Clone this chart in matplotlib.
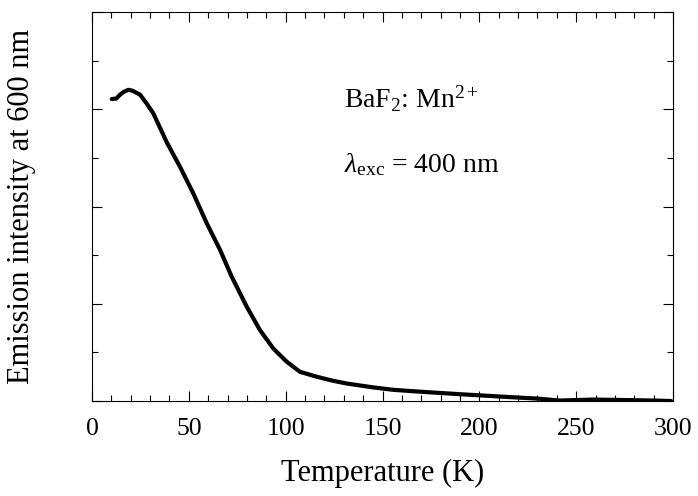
import matplotlib
matplotlib.use("Agg")
import matplotlib.pyplot as plt
from matplotlib.ticker import MultipleLocator

plt.rcParams['font.family'] = ['Liberation Serif', 'DejaVu Serif']
plt.rcParams['mathtext.fontset'] = 'custom'
plt.rcParams['mathtext.rm'] = 'Liberation Serif'
plt.rcParams['mathtext.it'] = 'Liberation Serif:italic'

# temperature (K) and emission intensity (arb. units)
temp = [10.2, 12.5, 14.5, 16.5, 18.8, 21, 24.8, 28, 31.6, 35, 38.6, 42, 45.4,
        52.3, 59.2, 66.1, 72.1, 79.9, 86.7, 93.6, 100.5, 107.4, 116,
        124, 131.5, 138.4, 145.2, 155.6, 170, 190, 203, 215.8, 230,
        241.6, 250, 258.8, 275, 290, 299]
intensity = [6.21, 6.22, 6.30, 6.36, 6.40, 6.38, 6.30, 6.13, 5.92, 5.63, 5.32, 5.07, 4.82,
             4.27, 3.66, 3.11, 2.56, 1.94, 1.46, 1.08, 0.81, 0.60, 0.50,
             0.42, 0.36, 0.32, 0.28, 0.23, 0.19, 0.14, 0.11, 0.08, 0.05,
             0.01, 0.02, 0.03, 0.02, 0.01, 0.0]

fig = plt.figure(figsize=(6.98, 4.96), dpi=100)
ax = fig.add_axes([0.1318, 0.1915, 0.8324, 0.7843])

ax.plot(temp, intensity, color='black', lw=3, solid_capstyle='round',
        solid_joinstyle='round')

ax.set_xlim(0, 300)
ax.set_ylim(0, 8)
ax.xaxis.set_major_locator(MultipleLocator(50))
ax.xaxis.set_minor_locator(MultipleLocator(10))
ax.yaxis.set_major_locator(MultipleLocator(2))
ax.yaxis.set_minor_locator(MultipleLocator(1))
ax.tick_params(which='both', direction='in', top=True, right=True, width=0.8)
ax.tick_params(which='major', length=7, labelsize=18.5, pad=12)
ax.tick_params(which='minor', length=4)
ax.tick_params(axis='y', labelleft=False)
for s in ax.spines.values():
    s.set_linewidth(0.8)

ax.set_xlabel('Temperature (K)', fontsize=22, labelpad=14)
ax.set_ylabel('Emission intensity at 600 nm', fontsize=22, labelpad=37)

ax.text(0.433, 0.753, r'BaF$_2$: Mn$^{2+}$', transform=ax.transAxes, fontsize=20)
ax.text(0.433, 0.589, r'$\lambda_{\rm exc}$ = 400 nm', transform=ax.transAxes, fontsize=20)

fig.savefig('out.png', dpi=100)
